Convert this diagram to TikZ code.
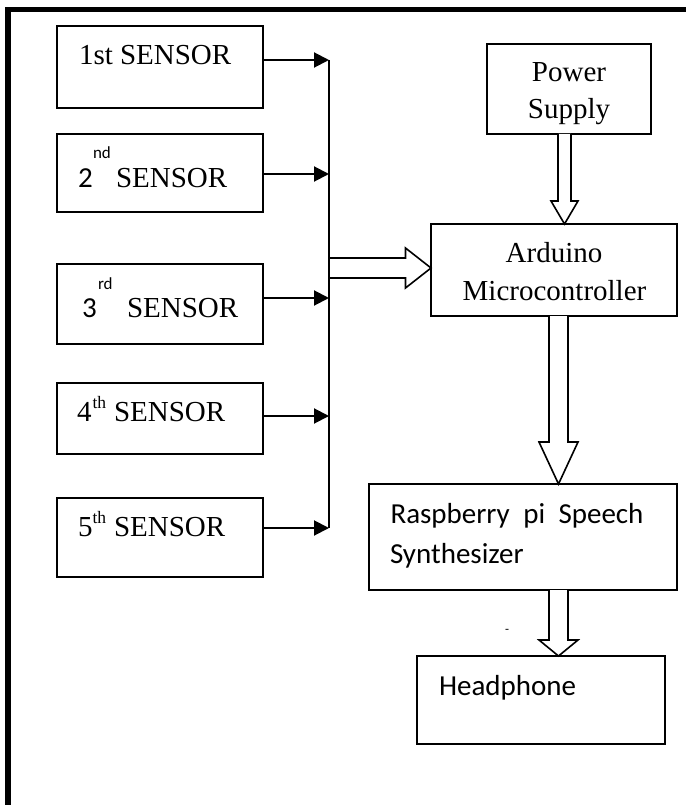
\documentclass[tikz,border=0pt]{standalone}
\usepackage{fontspec}
\setmainfont{Liberation Serif}
\newfontfamily\carl{Carlito}
\usetikzlibrary{arrows.meta,calc}
\newcommand{\blockdown}[6]{%
  \coordinate (P) at (#1.south -| #3);
  \coordinate (T) at (#2.north -| #3);
  \draw[hollow] ($(P)+(-#4,0)$) -- ($(T)+(-#4,-#6)$) -- ($(T)+(-#5,-#6)$) -- (T)
    -- ($(T)+(#5,-#6)$) -- ($(T)+(#4,-#6)$) -- ($(P)+(#4,0)$);}
\tikzset{
  box/.style={draw=black,line width=1.6pt,fill=white,rectangle,inner sep=0pt,outer sep=0pt},
  sensorbox/.style={box,minimum width=206pt},
  txt/.style={inner sep=0pt,outer sep=0pt,anchor=base west,font=\fontsize{29}{29}\selectfont},
  ctxt/.style={txt,anchor=base},
  ctx/.style={txt,font=\fontsize{29}{29}\selectfont\carl},
  sup/.style={txt,font=\fontsize{17.5}{17.5}\selectfont},
  csup/.style={txt,font=\fontsize{17}{17}\selectfont\carl},
  feed/.style={draw=black,line width=2pt,-{Triangle[length=15pt,width=15pt]},shorten >=0pt},
  busline/.style={draw=black,line width=1.5pt},
  hollow/.style={draw=black,line width=1.6pt,fill=white,miter limit=10},
  frameline/.style={draw=black,line width=5.3pt}
}
\begin{document}
\begin{tikzpicture}[x=1pt,y=-1pt]
\useasboundingbox (0,0) rectangle (686,805);
\draw[frameline] (8,805) -- (8,9.5) -- (686,9.5);

% boxes
\node[sensorbox,minimum height=82pt] (s1) at (160,67) {};
\node[sensorbox,minimum height=78pt] (s2) at (160,173) {};
\node[sensorbox,minimum height=80pt] (s3) at (160,304) {};
\node[sensorbox,minimum height=71pt] (s4) at (160,418.5) {};
\node[sensorbox,minimum height=79pt] (s5) at (160,537.5) {};
\node[box,minimum width=164pt,minimum height=90pt] (power) at (569,89) {};
\node[box,minimum width=246pt,minimum height=92pt] (ard) at (554,270) {};
\node[box,minimum width=308pt,minimum height=106pt] (rasp) at (523,537) {};
\node[box,minimum width=248pt,minimum height=88pt] (head) at (541,700) {};

% bus coordinates
\coordinate (b1) at (329,60);
\coordinate (b2) at (329,174);
\coordinate (b3) at (329,298);
\coordinate (b4) at (329,416);
\coordinate (b5) at (329,528);
\coordinate (bm) at (329,268);

% block arrows
\coordinate (tipm) at (ard.west |- bm);
\draw[hollow] ($(bm)+(0,-10)$) -- ($(tipm)+(-25.5,-10)$) -- ($(tipm)+(-25.5,-20)$) -- (tipm)
  -- ($(tipm)+(-25.5,20)$) -- ($(tipm)+(-25.5,10)$) -- ($(bm)+(0,10)$);
\coordinate (c1) at (564.5,0);
\coordinate (c2) at (558.5,0);
\blockdown{power}{ard}{c1}{6.5}{13.5}{23}
\blockdown{ard}{rasp}{c2}{9.5}{19.5}{42}
\blockdown{rasp}{head}{c2}{9.5}{19.5}{16}

% bus and sensor feeds, over the block arrow's tail
\draw[busline] (b1) -- (b5);
\draw[feed] (s1.east |- b1) -- (b1);
\draw[feed] (s2.east |- b2) -- (b2);
\draw[feed] (s3.east |- b3) -- (b3);
\draw[feed] (s4.east |- b4) -- (b4);
\draw[feed] (s5.east |- b5) -- (b5);

% labels
\node[txt] (t1) at (79,65) {1st SENSOR};
\node[ctx] (t2) at (78,187) {2};
\node[csup] (t2s) at (93,159) {nd};
\node[txt] (t2b) at (116,187) {SENSOR};
\node[ctx] (t3) at (82,317) {3};
\node[csup] (t3s) at (98,289) {rd};
\node[txt] (t3b) at (127,317) {SENSOR};
\node[txt] (t4) at (77,421) {4};
\node[sup] (t4s) at (92.5,408) {th};
\node[txt] (t4b) at (114,421) {SENSOR};
\node[txt] (t5) at (78,536) {5};
\node[sup] (t5s) at (92.5,523) {th};
\node[txt] (t5b) at (114,536) {SENSOR};
\node[ctxt] (p1) at (569,82) {Power};
\node[ctxt] (p2) at (569,119) {Supply};
\node[ctxt] (a1) at (554,262) {Arduino};
\node[ctxt] (a2) at (554.5,300) {Microcontroller};
\node[ctx] (r1) at (390.5,523) {\makebox[253pt][s]{Raspberry\hfil pi\hfil Speech}};
\node[ctx] (r2) at (390,563) {Synthesizer};
\node[ctx] (h1) at (439,695) {Headphone};
\node[txt,anchor=base,font=\fontsize{13}{13}\selectfont\carl] (dot) at (507,633) {-};
\end{tikzpicture}
\end{document}
